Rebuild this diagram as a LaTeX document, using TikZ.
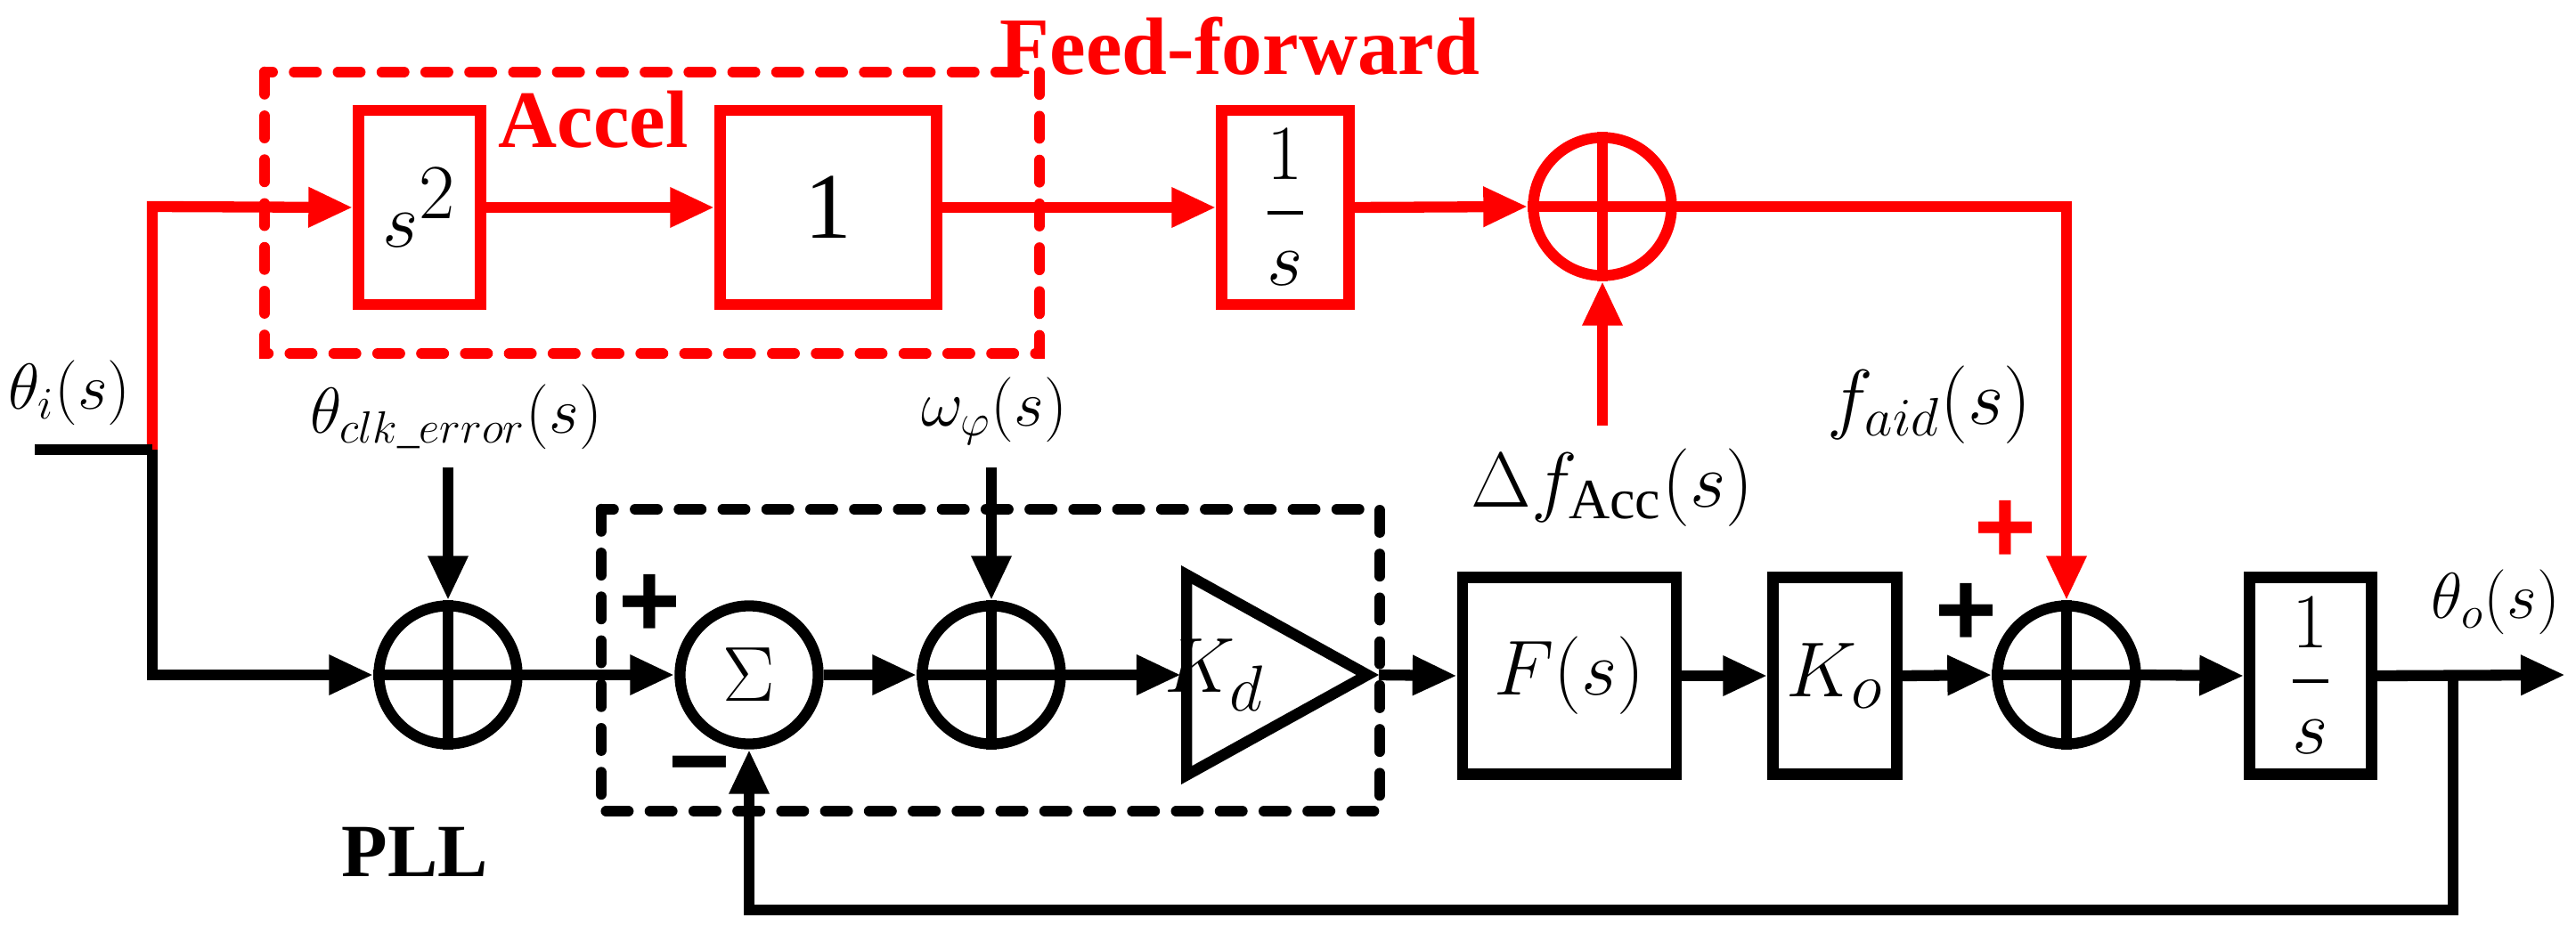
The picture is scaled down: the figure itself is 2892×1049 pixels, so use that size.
\documentclass[tikz,border=0pt]{standalone}
\usepackage{amsmath}
\usepackage{fontspec}
\setmainfont{Liberation Serif}
\newfontfamily\sansb{Liberation Sans}
\usetikzlibrary{arrows.meta,shapes.geometric}
\definecolor{rd}{RGB}{255,0,0}
\begin{document}
\begin{tikzpicture}[x=0.01cm,y=-0.01cm,
  ln/.style={line width=3.5pt},
  arr/.style={ln,-{Triangle[length=0.5cm,width=0.42cm]}},
  box/.style={draw,ln,minimum width=#1,inner sep=0pt},
  sum/.style={draw,ln,circle,minimum size=1.55cm,inner sep=0pt},
  dbox/.style={line width=3.5pt,dash pattern=on 7pt off 7pt,line cap=round},
  lab/.style={font=\fontsize{20}{24}\selectfont},
  sign/.style={font=\sansb\bfseries\fontsize{34}{34}\selectfont}]
\useasboundingbox (0,0) rectangle (2892,1049);
% red feed-forward
\begin{scope}[rd]
\draw[dbox] (297,81) rectangle (1167,397);
\node[font=\bfseries\fontsize{26}{30}\selectfont] (ff) at (1392,52) {Feed-forward};
\node[font=\bfseries\fontsize{26}{30}\selectfont] (acc) at (666,134) {Accel};
\node[box=1.37cm,minimum height=2.18cm] (s2) at (471,233) {};
\node[box=2.43cm,minimum height=2.18cm] (one) at (930,233) {};
\node[box=1.43cm,minimum height=2.18cm] (is) at (1443,233) {};
\node[sum] (rs) at (1799,232) {};
\draw[ln] (rs.north)--(rs.south) (rs.west)--(rs.east);
\coordinate (rin) at (171,505);
\coordinate (rc) at (171,232);
\coordinate (dfs) at (1799,478);
\coordinate (rcor) at (2320,232);
\draw[arr] (rin)--(rc)--(s2.west);
\draw[arr] (s2.east)--(one.west);
\draw[arr] (one.east)--(is.west);
\draw[arr] (is.east)--(rs.west);
\draw[arr] (dfs)--(rs.south);
\node[sign] (rp) at (2251,597) {+};
\end{scope}
\node[font=\fontsize{36}{40}\selectfont] at (s2) {$s^2$};
\node[font=\fontsize{30}{34}\selectfont] at (one) {1};
\node[font=\fontsize{26}{30}\selectfont] at (is) {$\dfrac{1}{s}$};
% black
\draw[dbox] (675,572) rectangle (1549,911);
\node[sum] (p1) at (503,758) {};
\draw[ln] (p1.north)--(p1.south) (p1.west)--(p1.east);
\node[sum,font=\fontsize{30}{30}\selectfont] (sig) at (841,758) {$\Sigma$};
\node[sum] (p2) at (1113,758) {};
\draw[ln] (p2.north)--(p2.south) (p2.west)--(p2.east);
\node[draw,ln,isosceles triangle,isosceles triangle apex angle=58,minimum height=2.03cm,inner sep=0pt,anchor=west] (kd) at (1326,758) {};
\node[font=\fontsize{30}{34}\selectfont] at ([xshift=-0.35cm]kd.center) {$K_d$};
\node[box=2.4cm,minimum height=2.21cm,font=\fontsize{28}{32}\selectfont] (fs) at (1762,759) {$F(s)$};
\node[box=1.39cm,minimum height=2.21cm,font=\fontsize{30}{34}\selectfont] (ko) at (2060,759) {$K_o$};
\node[sum] (p3) at (2320,758) {};
\draw[ln] (p3.north)--(p3.south) (p3.west)--(p3.east);
\node[box=1.37cm,minimum height=2.21cm,font=\fontsize{24}{28}\selectfont] (os) at (2594,759) {$\dfrac{1}{s}$};
\coordinate (in) at (39,505);
\coordinate (ic) at (171,505);
\coordinate (ib) at (171,758);
\coordinate (clk) at (503,525);
\coordinate (om) at (1113,525);
\coordinate (out) at (2880,758);
\coordinate (fb) at (2754,758);
\coordinate (fbb) at (2754,1022);
\coordinate (fbl) at (841,1022);
\draw[ln] (in)--(ic);
\draw[arr] (ic)--(ib)--(p1.west);
\draw[arr] (clk)--(p1.north);
\draw[arr] (p1.east)--(sig.west);
\draw[arr] (sig.east)--(p2.west);
\draw[arr] (om)--(p2.north);
\draw[arr] (p2.east)--(kd.west);
\draw[arr] (kd.east)--(fs.west);
\draw[arr] (fs.east)--(ko.west);
\draw[arr] (ko.east)--(p3.west);
\draw[arr] (p3.east)--(os.west);
\draw[arr] (os.east)--(out);
\draw[arr] (fb)--(fbb)--(fbl)--(sig.south);
\draw[arr,rd] (rs.east)--(rcor)--(p3.north);
\node[sign] (sp) at (729,680) {+};
\node[sign] (sm) at (785,872) {\textminus};
\node[sign] (kp) at (2207,690) {+};
\node[lab] (ti) at (78,441) {$\theta_i(s)$};
\node[lab] (tc) at (512,468) {$\theta_{clk\_error}(s)$};
\node[lab] (tw) at (1116,462) {$\omega_\varphi(s)$};
\node[font=\fontsize{26}{30}\selectfont] (df) at (1810,548) {$\Delta f_{\mathrm{Acc}}(s)$};
\node[font=\fontsize{26}{30}\selectfont] (fa) at (2166,455) {$f_{aid}(s)$};
\node[lab] (to) at (2802,676) {$\theta_o(s)$};
\node[font=\bfseries\fontsize{24}{28}\selectfont] (pll) at (466,957) {PLL};
\end{tikzpicture}
\end{document}
